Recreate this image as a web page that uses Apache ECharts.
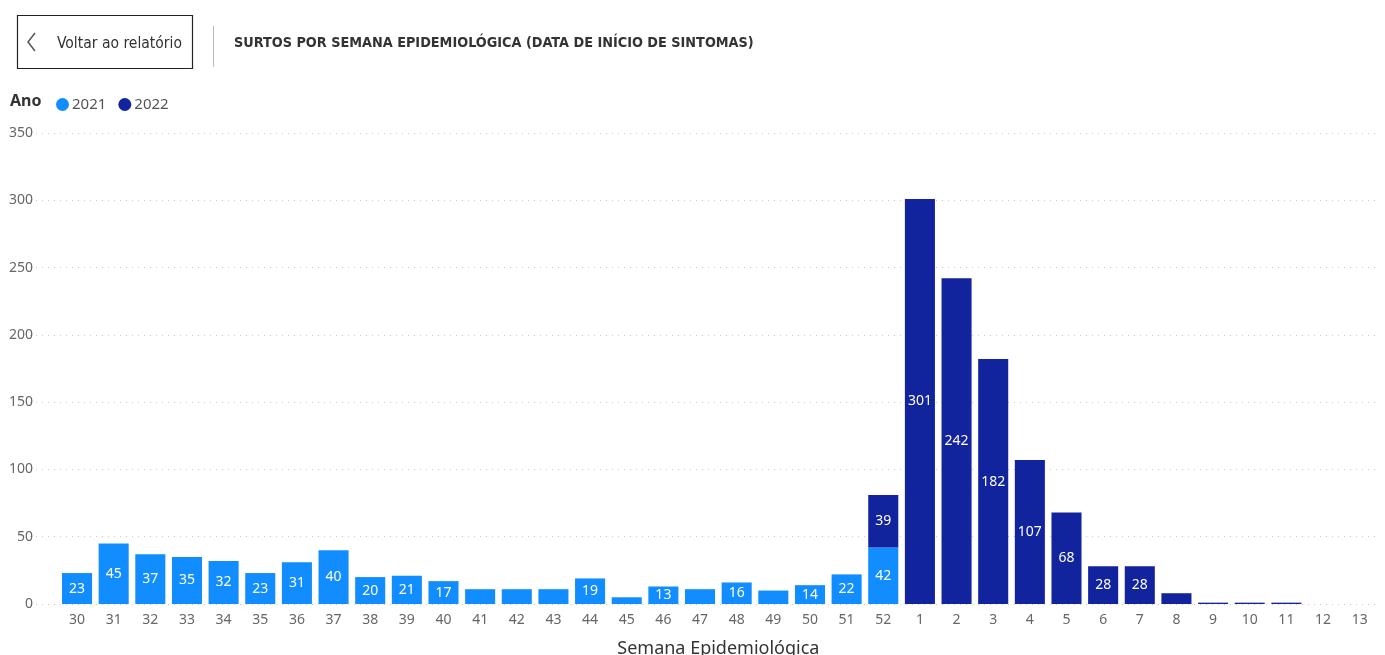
<!DOCTYPE html>
<html><head><meta charset="utf-8">
<script src="https://cdn.jsdelivr.net/npm/echarts@6/dist/echarts.min.js"></script>
<style>html,body{margin:0;padding:0;background:#fff}#c{width:1385px;height:655px}</style>
</head><body><div id="c"></div>
<script>
const weeks = ['30','31','32','33','34','35','36','37','38','39','40','41','42','43','44','45','46','47','48','49','50','51','52','1','2','3','4','5','6','7','8','9','10','11','12','13'];
const y2021 = [23,45,37,35,32,23,31,40,20,21,17,11,11,11,19,5,13,11,16,10,14,22,42,0,0,0,0,0,0,0,0,0,0,0,0,0];
const y2022 = [0,0,0,0,0,0,0,0,0,0,0,0,0,0,0,0,0,0,0,0,0,0,39,301,242,182,107,68,28,28,8,1,1,1,0,0];
const yTicks = [0,50,100,150,200,250,300,350];

const chart = echarts.init(document.getElementById('c'));
const lbl = {show:true, position:'inside', color:'#fff', fontSize:14, fontFamily:'Noto Sans',
  formatter: p => p.value >= 12 ? String(p.value) : ''};
chart.setOption({
  animation:false,
  textStyle:{fontFamily:'Noto Sans'},
  graphic:[
    {type:'rect', shape:{x:17.5,y:15.5,width:175,height:53}, style:{fill:'#fff',stroke:'#222',lineWidth:1.2}},
    {type:'polyline', shape:{points:[[35,33],[28,42],[35,51]]}, style:{stroke:'#555',lineWidth:1.5,fill:null}},
    {type:'text', x:57, y:44, style:{text:'Voltar ao relatório', font:'15.5px "Liberation Sans Narrow","DejaVu Sans Condensed",sans-serif', fill:'#333', verticalAlign:'middle'}},
    {type:'line', shape:{x1:213.5,y1:26,x2:213.5,y2:67}, style:{stroke:'#bbb',lineWidth:1}},
    {type:'text', x:234, y:43, style:{text:'SURTOS POR SEMANA EPIDEMIOLÓGICA (DATA DE INÍCIO DE SINTOMAS)', font:'bold 14.3px "DejaVu Sans Condensed",sans-serif', fill:'#333', verticalAlign:'middle'}},
    {type:'text', x:10, y:101, style:{text:'Ano', font:'bold 16px "Noto Sans",sans-serif', fill:'#333', verticalAlign:'middle'}}
  ],
  legend:{left:51, top:92, itemGap:12, itemWidth:13, itemHeight:13, icon:'circle',
    textStyle:{color:'#555', fontSize:15, padding:[0,0,0,-2]}, data:['2021','2022']},
  grid:[
    {left:30, right:7, top:133, bottom:51, outerBoundsMode:'none'},
    {left:58.7, right:7, top:133, bottom:51, outerBoundsMode:'none'}
  ],
  xAxis:[
    {type:'value', gridIndex:0, show:false, min:0, max:1},
    {type:'category', gridIndex:1, data:weeks, axisLine:{show:false}, axisTick:{show:false},
     axisLabel:{color:'#666', fontSize:14, margin:9},
     name:'Semana Epidemiológica', nameLocation:'middle', nameGap:36,
     nameTextStyle:{color:'#333', fontSize:18}}
  ],
  yAxis:[
    {type:'value', gridIndex:0, min:0, max:350, interval:50,
     axisLabel:{color:'#666', fontSize:14, margin:-3, align:'right',
       formatter: v => yTicks.includes(v) ? String(v) : ''},
     axisLine:{show:false}, axisTick:{show:false},
     splitLine:{lineStyle:{color:'#c8c8c8', type:[1,5], width:1}}},
    {type:'value', gridIndex:1, min:0, max:350, interval:50, show:false, splitLine:{show:false}}
  ],
  series:[
    {name:'2021', type:'bar', stack:'a', xAxisIndex:1, yAxisIndex:1, data:y2021, barCategoryGap:'18%',
     itemStyle:{color:'#118DFF'}, label:lbl},
    {name:'2022', type:'bar', stack:'a', xAxisIndex:1, yAxisIndex:1, data:y2022, barCategoryGap:'18%',
     itemStyle:{color:'#12239E'}, label:lbl}
  ]
});
</script></body></html>
